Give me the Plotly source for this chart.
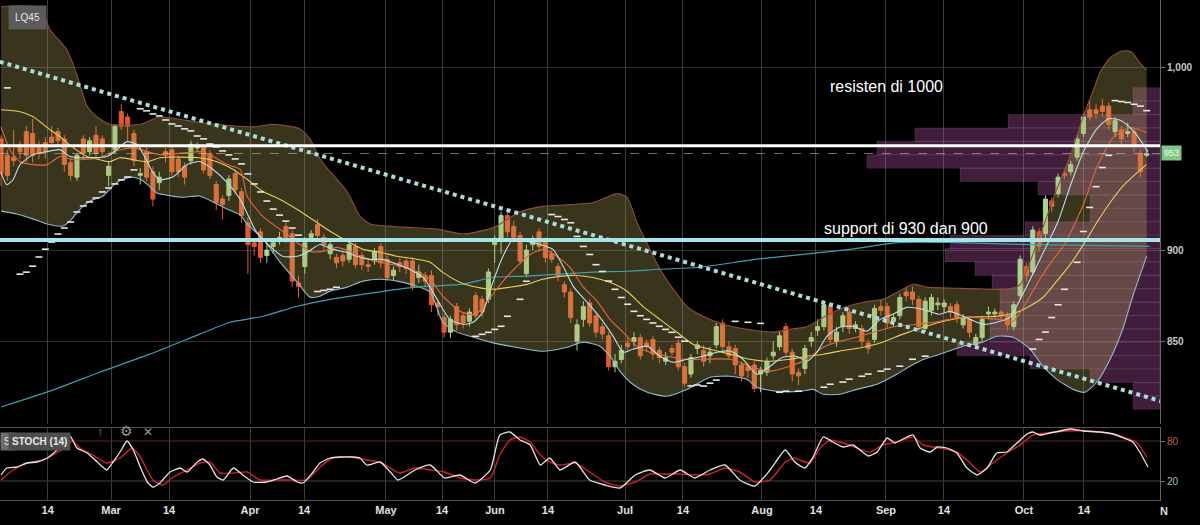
import plotly.graph_objects as go

# ---------------- DATA ----------------
# candles: trading-day index 0..181 (mid-Jan .. end-Oct 2021), LQ45 index
candle_open = [961,952,951,957,965,964,957,959,962,965,961,948,940,961,954,963,961,941,955,976,
               973,964,941,954,943,937,954,955,950,946,949,956,957,953,936,928,930,942,932,915,
               904,910,897,902,905,913,909,882,891,907,914,907,898,896,897,895,902,897,892,894,
               902,895,886,893,894,894,885,886,886,871,863,855,869,864,861,875,873,873,903,906,
               919,913,908,887,903,910,905,898,891,881,877,850,862,871,864,858,853,836,840,849,
               850,852,849,851,845,839,846,849,836,832,846,845,842,848,860,847,846,837,836,837,
               832,833,842,847,858,844,833,835,850,856,858,869,850,858,866,857,857,849,851,869,
               869,861,864,877,877,873,857,867,870,869,869,870,859,862,848,852,865,865,866,864,
               858,875,891,888,910,909,927,931,942,943,951,964,977,977,979,979,965,966,964,965,
               953,952]
candle_high = [963,955,966,960,968,972,960,962,968,967,963,950,953,963,962,968,963,949,969,980,
               975,966,945,956,946,943,956,957,952,948,960,959,958,955,938,930,941,944,934,918,
               906,912,903,906,910,916,911,886,907,911,917,909,905,898,899,905,904,899,895,901,
               904,897,891,896,896,896,892,888,889,873,865,864,871,866,868,877,875,890,908,921,
               922,916,910,903,908,912,907,900,893,883,879,862,872,873,866,860,855,843,848,852,
               855,854,851,853,847,844,848,851,838,843,850,848,847,860,862,850,848,839,838,839,
               836,841,850,855,860,846,835,848,855,862,872,871,858,866,868,861,859,851,870,873,
               871,865,876,880,880,875,874,876,874,873,871,872,865,864,854,864,869,868,867,866,
               872,897,893,913,912,930,929,942,944,949,963,975,982,980,983,981,973,968,970,967,
               955,955]
candle_low = [935,938,946,950,948,948,950,950,957,957,943,938,938,950,952,951,951,935,953,966,
              960,946,936,938,924,933,948,941,940,936,947,954,942,939,922,917,927,931,915,887,
              897,893,893,898,903,904,880,874,887,905,905,900,895,890,891,893,890,889,888,892,
              890,883,883,888,887,878,882,880,866,864,852,852,856,857,858,862,863,871,893,898,
              907,904,892,885,900,899,893,893,883,874,860,845,858,858,852,851,834,833,838,845,
              847,840,844,840,838,837,842,834,825,830,843,836,838,846,845,840,832,828,830,822,
              822,831,840,845,842,828,826,832,847,853,856,848,847,855,854,855,847,843,849,864,
              857,858,862,872,870,855,855,864,867,866,863,860,857,852,846,850,862,863,861,856,
              856,873,883,886,899,906,921,929,939,941,949,962,971,972,973,966,962,958,962,954,
              940,951]
candle_close = [942,941,949,954,952,952,953,954,959,960,947,941,952,953,960,953,954,946,968,968,
                968,949,942,940,928,940,952,943,943,940,958,957,944,941,926,925,939,933,919,903,
                902,896,900,904,907,907,883,880,904,909,908,903,903,893,894,903,892,892,891,899,
                893,885,889,891,890,880,888,883,870,869,855,862,859,860,866,864,866,888,906,919,
                910,907,894,900,905,902,896,895,886,877,863,859,869,860,855,854,836,839,845,847,
                852,842,847,843,841,841,844,836,827,841,848,839,844,858,847,842,837,831,834,824,
                834,839,844,853,844,832,831,846,852,858,870,851,855,864,857,859,850,846,868,867,
                860,863,874,875,873,858,872,874,871,871,866,863,863,855,852,862,866,866,864,859,
                870,895,886,911,902,928,924,940,941,947,961,973,973,975,976,969,971,961,965,957,
                943,953]

# Bollinger band (20) upper / lower and basis, sampled along the curve: (index, price)
bb_upper_idx = [0,6.2,7.7,10.4,12,13.6,15.2,17.2,22,25.1,31.4,39.8,43,47.2,48.8,50.4,52,54.7,56.7,58.3,
                63.5,68.9,73,75.2,78,82,85.6,89.9,93.5,95.7,97.3,98.9,100.5,102.5,104.1,106.2,108.4,110.9,114.1,117.9,
                122,124.6,127.3,129.9,132.5,136.2,139.3,142.5,144.1,146.3,151.5,158.9,161,162.1,164.1,166.8,168.9,171,172.6,173.6,
                175.2,176.8,177.9,178.8,179.9,181]
bb_upper_val = [1033.5,1033,1021,1010,996,979,973,969,969,973,970,967.6,969,966.5,961,950,943,932,918.7,914.3,
                912.6,911.5,908.8,910,912.6,921,924,925,926,929,931,929,915,900.5,889.6,878.6,869,863.7,859.3,856.6,
                855,856.6,858,863,867.6,871.4,873,878.6,881.3,879.7,879,878.6,881,889.6,907.7,933.5,951.6,973.6,988,997.3,
                1005.5,1008.8,1009.3,1008.2,1002.7,998.9]
bb_lower_idx = [0,2.5,5.1,7.3,9.8,10.9,12.5,14.1,16.1,18,19.3,20.9,22.4,23.9,24.6,28.8,31.4,33.5,35.7,37.8,
                38.9,41.4,44.1,46.8,48.8,50.4,52,54.7,57.2,59.9,62.6,65.7,67.8,69.8,72,74.1,77.3,80.4,85.6,89.4,
                91.9,94.6,96.2,97.8,99.8,102.1,105.2,108.4,112,115.2,117.9,119.4,122.6,126.2,128.3,129.9,132.5,135.2,138.4,141.5,
                143.6,145.7,148.3,152,155.1,157.3,159.9,162.6,164.6,166.8,169.4,171.2,173.1,175.2,177.2,178.8,181]
bb_lower_val = [921.4,919.8,917,914.3,913.2,916,922.5,927,929.7,936.3,939,940,938,933.5,931.3,929,929.7,926.4,922.5,919.2,
                914.3,906,893.4,882.4,874.2,874.7,877.5,879.7,883,884,883,880.2,877,860.4,855,852.7,849.5,847.3,844.5,846.7,
                849.5,847.3,841.8,833.5,826.4,822,819.8,823.6,830.2,830.8,829,824.7,822.5,822.5,823.6,820.9,820.9,823.6,826.4,831.9,
                836.3,840,842.9,847.3,849.5,852.7,852.2,845.6,836.3,829.1,823.6,822,827.5,840,856.6,874.7,896.7]
ma20_idx = [0,3,5.1,7.3,9.3,11.4,13.6,15.6,17.2,18.8,23.1,25.1,31.4,34.1,36.7,38.9,41.4,44.1,46.8,49.9,
            52,54.7,57.2,59.9,62.6,65.7,67.8,69.8,72.5,75.2,77.7,80.4,83.1,85.6,88.3,91,93.5,96.2,98.9,101.4,
            104.1,106.8,109.3,112,115.2,118.3,121.5,124.6,127.3,129.9,132.5,136.2,139.3,142.5,145.7,148.3,152,157.3,160.5,162.6,
            164.6,166.8,168.9,171,173.1,175.2,177.2,179.5,181]
ma20_val = [977,975.9,973.2,967.2,962.2,956.2,951.3,949.6,948.5,950.7,948.5,950.7,950.7,948.5,944.2,938.7,932.1,927.8,922.3,915.2,
            910.3,904.8,900.4,898.8,896.6,895,893.3,887.8,882.4,879.6,878.5,879.6,881.2,884,885.6,886.1,885,882.3,877.4,869.1,
            862,854.9,848.4,845.6,842.9,840.1,839,840.1,841.8,842.9,844.6,846.7,849.5,853.9,857.7,860.4,863.1,863.7,865.9,869.5,
            874,883,892,903,915,926,935,942.5,947]
# faster moving averages
ma10_idx = [0,1.4,3,5.1,7.3,9.3,11.4,15.6,17.7,20.9,23.1,25.1,29.4,31.4,33.5,35.7,37.8,38.9,41.4,44.1,
            46.8,48.8,50.9,53.1,55.1,57.2,59.4,61.5,63.5,65.7,67.8,69.8,72.5,74.9,77.3,79.3,81.5,83.6,85.6,87.8,
            89.9,91.9,94.2,96.2,98.3,100.5,102.5,105.2,107.7,110.4,115.2,118.3,121.5,124.6,127.3,129.9,132.5,135.2,138.4,141.5,
            144.7,148.3,152,157.3,159.9,161.8,164.1,166,168,171,173.1,175.7,178.4,181]
ma10_val = [967.7,955.1,948.5,946.9,946.9,951.3,949.6,950.7,954,956.2,954,952.4,953.5,954,951.3,946.9,944.2,929.4,918.4,911.3,
            904.2,899.3,899.3,901.5,899.3,896,893.8,892.2,891.1,888.3,884,874.7,866.5,864.5,874.1,882.9,891.1,897.6,900.4,896.6,
            890.5,880.1,871.9,862,854.9,847.3,844,841.8,840.1,840.1,840.1,836.3,833.6,836.3,840.1,846.7,850,852.2,855.5,858.2,
            859.3,861,863.2,862.1,861,870.3,884,893.8,903.1,925,945.3,961.7,967.2,964.4]
ma5_idx = [0,0.9,1.9,3,5.1,7.3,9.3,10.9,12.5,16.7,18.3,19.9,21.5,23.1,24,25.1,27.2,29.4,31.4,33.5,
           35.7,37.8,40.4,42.5,44.5,46.8,48.3,50.4,52.4,54.7,56.2,58.3,60.3,62.6,64.6,66.7,68.9,70.9,73,74.6,
           76.1,77.7,79.3,80.9,83.1,85.2,87.2,88.8,90.4,92.6,94.6,96.7,98.3,99.8,102.1,104.1,106.2,108.4,110.9,113.1,
           115.2,117.2,119.4,121.5,123.5,125.7,127.3,128.9,130.5,132.5,134.6,136.8,138.9,140.9,143.1,145.7,148.3,149.9,153.1,155.1,
           157.3,159.4,161,162.6,164.9,167,169,171,173,175,177,179,181.2]
ma5_val = [942.5,935.9,938.6,946.9,952.4,954,955.1,951.3,950.7,951.3,955.1,959.5,957.9,948.6,942.5,938.6,940.3,946.9,948.6,944.2,
           937.1,927.8,909.7,902,896.6,896.6,898.7,903.1,900.4,898.7,896.6,894.9,894.9,892.2,889.4,885,873,862,859.3,860.4,
           865.9,882.3,896.6,905.9,904.8,903.1,900.4,891.1,880.1,871.4,863.2,852.8,844,845.6,847.3,841.8,838.5,840.1,841.8,844,
           844.6,840.1,831.9,836.3,841.2,841.8,839,844,852.8,857.7,858.2,855.5,862,864.8,868.6,867.5,864.8,866.4,862,859.3,
           860.4,863.2,873,884,900.4,915.7,936,954,966,972.1,971,965,954]
ma200_idx = [0,7.7,15.6,23.5,31.4,36.2,41.4,46.8,52,57.2,62.6,67.8,73,77.7,83.1,88.3,93.5,98.9,104.1,110.4,
             119.4,134.1,142,149.9,160.5,181.5]
ma200_val = [813.9,822.6,833,842.9,853.9,860.4,863.7,869.2,873,875.8,878.5,880.2,881.3,885.1,885.7,886.8,887.9,888.4,889.5,890.6,
             895,900.4,904.2,904.2,903.1,902]

# parabolic SAR dots (index, price)
sar_idx = [1,3,4,5,6,7,8,9,10,11,12,13,14,15,16,17,18,19,20,21,
           22,23,24,25,26,27,28,29,30,31,32,33,34,35,36,37,38,39,40,41,42,43,44,45,46,47,
           50,51,52,53,
           75,76,77,78,79,80,82,83,
           87,88,89,90,91,92,93,94,95,96,97,98,99,100,101,102,103,104,105,106,107,108,
           109,110,111,112,113,116,118,120,123,124,126,
           130,131,133,134,136,137,139,140,142,144,146,
           163,164,165,166,167,168,170,171,172,173,174,175,176,177,178,179,180,181]
sar_val = [989,886.8,887.9,891.2,896.2,900.5,904.4,908.8,912.1,915.4,920.9,924.2,926.4,928.6,931.9,934.1,936.3,938.5,940.1,944,
           977.5,976.4,974.7,973.6,971.4,969.2,968.1,966.5,965.4,962.6,961,958.2,956.6,954.4,952.2,950,947.3,941.8,936.3,931.9,926.9,922.5,919.2,915.9,912.1,908.2,
           877.3,877.9,878.5,879.6,
           852.7,853.8,854.9,856.5,858.2,863.7,873,882.9,
           919.5,918.4,916.8,915,907.5,902,897.6,892,888.3,883,878.5,874,870.3,866.4,864,862,860,858.2,856.5,854.9,852.2,850,
           825.5,826,825.4,827,828.7,860.9,860.4,859.8,822,822.6,822.6,
           824.8,826.4,827.6,829.2,830.8,832,833.6,834.7,836.3,840.1,841.8,
           845.7,851,855,863,870,878.5,893.3,910.2,923.4,934.8,945.3,952,982,981.5,981,980,979,976.5]

# volume profile rows (price bins) and their lengths (arbitrary units, measured from the right edge)
vp_price = [985.4,978.0,970.7,963.3,956.0,948.6,941.3,933.9,926.6,919.2,911.9,904.5,
            897.2,889.8,882.5,875.1,867.8,860.4,853.1,845.7,838.4,831.0,823.7,816.3]
vp_volume = [27,27,152,245,283,293,200,122,70,70,135,210,
             215,185,168,160,160,170,170,203,130,70,27,27]
vp_bin = 7.35
vp_axis_max = 1160

# stochastic (14): %K (white) and %D (red)
stoch_k_idx = [0,0.9,2.5,4.1,5.7,7.3,8.5,9.6,10.4,10.9,12,13.6,15.2,16.7,17.7,18.8,19.9,20.9,22,23.1,
               24,25.1,26.7,28.3,29.4,31,31.9,33,34.1,35.1,36.7,38.2,39.8,42,43.6,45.2,46.8,47.7,49.3,50.4,
               52,53.6,55.6,56.7,57.8,59.9,61.5,62.7,65.4,67.8,70.1,72.5,74.9,77.3,78.8,80.4,82,83.6,85.2,86.7,
               88.3,90.7,93,95.4,97.8,100.2,102.5,104.9,107.3,109.6,112,114.4,116.7,119.1,121.5,123.9,125.4,127,128.3,129.9,
               131.4,133,134.6,137,138.4,140,141.2,142.5,144.1,145.2,146.8,147.9,149.4,151,152.6,154.2,155.8,157.3,158.9,160.5,
               162.1,163,164.1,165.7,167.3,168.9,171,173.6,175.7,177.3,178.8,179.9,181.2]
stoch_k_val = [29,39.5,41,47,48.5,54.5,63.5,72.5,80,87.5,69.5,62,48.5,36.5,48.5,63.5,80,66.5,41,18.5,
               11,17,33.5,39.5,33.5,48.5,53,44,26,21.5,39.5,29,18.5,18.5,23,27.5,18.5,17,33.5,47,
               54.5,56,56,54.5,44,48.5,33.5,21.5,36.5,44,24.5,29,17,36.5,89,93.5,81.5,74,44,54.5,
               36.5,48.5,21.5,14,9.5,29,36.5,24.5,36.5,24.5,36.5,44,21.5,12.5,36.5,66.5,48.5,39.5,56,86,
               78.5,71,74,57.5,63.5,84.5,77,83,89,69.5,63.5,71,69.5,62,39.5,29,39.5,62,63.5,77,
               90.5,93.5,89,92,95,98,95,93.5,90.5,84.5,78.5,63.5,41]
stoch_d_idx = [0,1.9,4.1,6.6,8.8,10.4,11.2,12.5,14.5,16.7,18.8,20.7,22,24,25.6,27.2,29.4,31.4,33,34.6,
               36.7,38.9,40.9,43.6,46.1,48.3,50.4,52.4,55.1,57.8,59.9,63,65.4,67.8,70.1,72.5,74.9,77.3,78.8,80.4,
               82,83.6,85.2,86.7,88.3,90.7,93,95.4,97.8,100.2,102.5,104.9,107.3,109.6,112,114.4,116.7,119.1,121.5,123.9,
               125.4,126.2,127.8,129.4,131,133,137.3,139.3,141.5,144.1,145.7,148.3,151,153.1,154.7,156.7,158.9,161,163,165.2,
               168.4,171.6,174.7,177.3,179.5,181]
stoch_d_val = [21.5,36.5,47,51.5,62,72.5,80,69.5,59,47,54.5,69.5,56,21.5,14,26,36.5,47,48.5,32,
               32,33.5,21.5,21.5,21.5,21.5,41,54.5,56,51.5,48.5,32,39.5,36.5,33.5,24.5,21.5,24.5,59,81.5,
               86,78.5,59,48.5,44,47,33.5,18.5,12.5,18.5,30.5,30.5,30.5,29,30.5,39.5,33.5,18.5,21.5,48.5,
               54.5,51.5,47,69.5,81.5,77,63.5,74,78.5,86,74,69.5,63.5,47,33.5,47,62,74,89,92,
               95,95,92,86,77,56]

# axis ticks (trading-day index of each label)
tick_idx = [7.38,17.38,26.54,39.34,47.87,60.82,69.67,78.04,86.41,98.58,107.74,120.22,128.75,139.81,148.97,161.6,171.09]
tick_text = ["14","Mar","14","Apr","14","May","14","Jun","14","Jul","14","Aug","14","Sep","14","Oct","14"]
x_range = [-0.16, 183.1]
price_range = [804.6, 1037.2]
price_ticks = [850, 900, 1000]
price_tick_text = ["850", "900", "1,000"]
stoch_range = [-8.5, 99.5]

# drawn levels / trendline
resistance_level = 957.3
support_level = 905.6
last_price = 953
trend_idx = [-0.2, 183.2]
trend_val = [1003.3, 817.2]
stoch_levels = [80, 20]

# ---------------- FIGURE ----------------
FONT = "Liberation Sans, Arial, sans-serif"
fig = go.Figure()

# volume profile on its own (reversed) x axis, drawn under the price subplot
fig.add_trace(go.Bar(orientation="h", x=vp_volume, y=vp_price, width=vp_bin,
                     xaxis="x", yaxis="y",
                     marker=dict(color="rgba(215,95,200,0.30)",
                                 line=dict(color="rgba(255,220,255,0.10)", width=1)),
                     hoverinfo="skip", showlegend=False))

# Bollinger band fill
fig.add_trace(go.Scatter(x=bb_upper_idx, y=bb_upper_val, xaxis="x2", yaxis="y", mode="lines",
                         line=dict(color="#8e4c3e", width=1.1, shape="spline", smoothing=0.6),
                         hoverinfo="skip", showlegend=False))
fig.add_trace(go.Scatter(x=bb_lower_idx, y=bb_lower_val, xaxis="x2", yaxis="y", mode="lines",
                         line=dict(color="#8fb9c9", width=1.1, shape="spline", smoothing=0.6),
                         fill="tonexty", fillcolor="rgba(190,176,96,0.30)",
                         hoverinfo="skip", showlegend=False))

for xs, ys, col, w in [(ma200_idx, ma200_val, "#3f9fb0", 1.2),
                       (ma20_idx, ma20_val, "#e6cf5a", 1.1),
                       (ma10_idx, ma10_val, "#e0693a", 1.1),
                       (ma5_idx, ma5_val, "#b4e2ea", 1.1)]:
    fig.add_trace(go.Scatter(x=xs, y=ys, xaxis="x2", yaxis="y", mode="lines",
                             line=dict(color=col, width=w, shape="spline", smoothing=0.6),
                             hoverinfo="skip", showlegend=False))

# dotted trendline
fig.add_trace(go.Scatter(x=trend_idx, y=trend_val, xaxis="x2", yaxis="y", mode="lines",
                         line=dict(color="#a9dcdc", width=4, dash="dot"),
                         hoverinfo="skip", showlegend=False))

# parabolic SAR
fig.add_trace(go.Scatter(x=sar_idx, y=sar_val, xaxis="x2", yaxis="y", mode="markers",
                         marker=dict(symbol="line-ew", size=5,
                                     line=dict(color="#e6e6e6", width=1.6)),
                         hoverinfo="skip", showlegend=False))

# candles
fig.add_trace(go.Candlestick(x=list(range(len(candle_close))),
                             open=candle_open, high=candle_high, low=candle_low, close=candle_close,
                             xaxis="x2", yaxis="y",
                             increasing=dict(line=dict(color="#a7d692", width=1), fillcolor="#a7d692"),
                             decreasing=dict(line=dict(color="#e5582c", width=1), fillcolor="#e5582c"),
                             whiskerwidth=0, hoverinfo="skip", showlegend=False))

# stochastic
fig.add_trace(go.Scatter(x=stoch_d_idx, y=stoch_d_val, xaxis="x3", yaxis="y3", mode="lines",
                         line=dict(color="#d0202a", width=1.4, shape="spline", smoothing=0.5),
                         hoverinfo="skip", showlegend=False))
fig.add_trace(go.Scatter(x=stoch_k_idx, y=stoch_k_val, xaxis="x3", yaxis="y3", mode="lines",
                         line=dict(color="#e4e4e4", width=1.3, shape="spline", smoothing=0.5),
                         hoverinfo="skip", showlegend=False))

shapes = [
    dict(type="line", xref="paper", yref="y", x0=0, x1=1, y0=last_price, y1=last_price,
         line=dict(color="rgba(200,200,200,0.55)", width=1, dash="dash"), layer="above"),
    dict(type="line", xref="paper", yref="y", x0=0, x1=1, y0=resistance_level, y1=resistance_level,
         line=dict(color="#ffffff", width=3), layer="above"),
    dict(type="line", xref="paper", yref="y", x0=0, x1=1, y0=support_level, y1=support_level,
         line=dict(color="#a6e6e8", width=4), layer="above"),
    dict(type="line", xref="paper", yref="y3", x0=0, x1=1, y0=stoch_levels[0], y1=stoch_levels[0],
         line=dict(color="#5c2a2a", width=1), layer="below"),
    dict(type="line", xref="paper", yref="y3", x0=0, x1=1, y0=stoch_levels[1], y1=stoch_levels[1],
         line=dict(color="#444444", width=1), layer="below"),
]

annotations = [
    dict(text="resisten di 1000", x=130.6, y=989.6, xref="x2", yref="y", xanchor="left", yanchor="middle",
         showarrow=False, font=dict(family=FONT, size=16, color="#ffffff")),
    dict(text="support di 930 dan 900", x=129.7, y=911.8, xref="x2", yref="y", xanchor="left", yanchor="middle",
         showarrow=False, font=dict(family=FONT, size=16, color="#ffffff")),
    dict(text="LQ45", x=8 / 1160, y=1 - 17 / 500, xref="paper", yref="paper", xanchor="left", yanchor="middle",
         showarrow=False, bgcolor="#5b5b5b", borderpad=6, font=dict(family=FONT, size=10, color="#e8e8e8")),
    dict(text=str(last_price), x=1.0, y=last_price, xref="paper", yref="y", xanchor="left", yanchor="middle",
         xshift=1, showarrow=False, bgcolor="#84c684", borderpad=2,
         font=dict(family=FONT, size=9, color="#e8f8e8")),
    dict(text="S", x=0, y=1 - 441 / 500, xref="paper", yref="paper", xanchor="left", yanchor="middle",
         showarrow=False, bgcolor="#6c6c6c", borderpad=3, font=dict(family=FONT, size=10, color="#eeeeee")),
    dict(text="<b>STOCH (14)</b>", x=8 / 1160, y=1 - 441 / 500, xref="paper", yref="paper", xanchor="left",
         yanchor="middle", showarrow=False, bgcolor="#4e4e4e", borderpad=3,
         font=dict(family=FONT, size=10, color="#e8e8e8")),
    dict(text="↑", x=95 / 1160, y=1 - 441 / 500, xref="paper", yref="paper", showarrow=False,
         font=dict(family=FONT, size=13, color="#8a8a8a")),
    dict(text="⚙", x=118 / 1160, y=1 - 441 / 500, xref="paper", yref="paper", showarrow=False,
         font=dict(family="DejaVu Sans", size=14, color="#9a9a9a")),
    dict(text="✕", x=141 / 1160, y=1 - 441 / 500, xref="paper", yref="paper", showarrow=False,
         font=dict(family="DejaVu Sans", size=12, color="#9a9a9a")),
    dict(text="<b>N</b>", x=1158 / 1160, y=0, xref="paper", yref="paper", xanchor="left", yanchor="top",
         yshift=-3, showarrow=False, font=dict(family=FONT, size=11, color="#dddddd")),
]

fig.update_layout(
    width=1200, height=525,
    margin=dict(l=0, r=40, t=0, b=25),
    paper_bgcolor="#000000", plot_bgcolor="#000000",
    font=dict(family=FONT, color="#d0d0d0"),
    showlegend=False, dragmode=False, boxgap=0.2, boxgroupgap=0.2,
    xaxis=dict(domain=[0, 1], anchor="y", range=[vp_axis_max, 0], visible=False, fixedrange=True),
    xaxis2=dict(domain=[0, 1], anchor="y", overlaying="x", range=x_range, tickvals=tick_idx,
                showticklabels=False, showgrid=True, gridcolor="#3c3c3c", gridwidth=1,
                zeroline=False, showline=False, rangeslider=dict(visible=False), fixedrange=True),
    yaxis=dict(domain=[0.152, 1], anchor="x", range=price_range, side="right",
               tickvals=price_ticks, ticktext=price_tick_text, ticks="outside", ticklen=4,
               tickcolor="#777777", tickfont=dict(family=FONT, size=10, color="#c8c8c8", weight="bold"),
               showgrid=True, gridcolor="#2f2f2f", zeroline=False,
               showline=True, linecolor="#666666", fixedrange=True),
    xaxis3=dict(domain=[0, 1], anchor="y3", range=x_range, tickvals=tick_idx, ticktext=tick_text,
                tickfont=dict(family=FONT, size=11, color="#e0e0e0", weight="bold"), ticks="",
                showgrid=True, gridcolor="#3c3c3c", zeroline=False,
                showline=True, mirror=True, linecolor="#555555", fixedrange=True),
    yaxis3=dict(domain=[0, 0.144], anchor="x3", range=stoch_range, side="right",
                tickvals=stoch_levels,
                ticktext=["<span style='color:#c25a5a'>80</span>", "<span style='color:#9cc9a8'>20</span>"],
                ticks="outside", ticklen=4, tickcolor="#777777",
                tickfont=dict(family=FONT, size=10), showgrid=False, zeroline=False,
                showline=True, linecolor="#666666", fixedrange=True),
    shapes=shapes, annotations=annotations,
)

fig.write_html("out.html", config={"displayModeBar": False},
               post_script="document.body.style.margin='0';document.body.style.background='#000';")
